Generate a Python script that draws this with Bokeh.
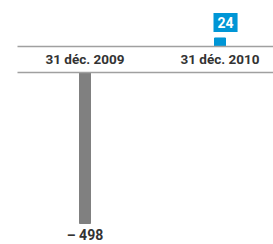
from bokeh.plotting import figure
from bokeh.models import Range1d, ColumnDataSource
from bokeh.core.properties import value
from bokeh.embed import file_html
from bokeh.resources import INLINE

categories = ["31 déc. 2009", "31 déc. 2010"]
values = [-498, 24]
bar_colors = ["#808080", "#0096d6"]

FONT = "Roboto"

xs = list(range(len(categories)))
band = -73  # depth of category strip in data units

def fmt(v):
    return ("– " + str(abs(v))) if v < 0 else str(v)

W, H = 273, 244
px_x = 135.0      # pixels per category step
x0_px = 84.5      # pixel position of first category
px_y = 0.3554     # pixels per unit
y0_px = 46.0      # pixel position of zero

p = figure(width=W, height=H, output_backend="svg", toolbar_location=None,
           x_range=Range1d(-x0_px / px_x, (W - x0_px) / px_x),
           y_range=Range1d(-(H - y0_px) / px_y, y0_px / px_y),
           min_border=0, outline_line_color=None)
p.axis.visible = False
p.grid.visible = False
p.background_fill_color = "white"
p.border_fill_color = "white"

src = ColumnDataSource(dict(x=xs, top=values, color=bar_colors,
                            label=[fmt(v) for v in values], cat=categories))
p.vbar(x="x", top="top", bottom=0, width=11 / px_x, color="color", source=src)

# category strip
p.quad(left=[-0.5], right=[2.0], top=[0], bottom=[band], color="white", line_color=None)
p.segment(x0=[-0.5, -0.5], x1=[2.0, 2.0], y0=[0, band], y1=[0, band],
          line_color="#a0a0a0", line_width=1.5)
p.text(x="x", y=band / 2, text="cat", source=src, text_font=value(FONT),
       text_font_style="bold", text_font_size="13.5px", text_color="#333333",
       text_align="center", text_baseline="middle")

# value labels
neg = ColumnDataSource(dict(x=[x for x, v in zip(xs, values) if v < 0],
                            y=[v for v in values if v < 0],
                            t=[fmt(v) for v in values if v < 0]))
pos = ColumnDataSource(dict(x=[x for x, v in zip(xs, values) if v >= 0],
                            y=[v for v in values if v >= 0],
                            t=[fmt(v) for v in values if v >= 0]))
p.text(x="x", y="y", text="t", source=neg, text_font=value(FONT),
       text_font_style="bold", text_font_size="14px", text_color="#333333",
       text_align="center", text_baseline="top", y_offset=4)
p.text(x="x", y="y", text="t", source=pos, text_font=value(FONT),
       text_font_style="bold", text_font_size="14px", text_color="white",
       text_align="left", text_baseline="bottom", x_offset=-6.5, y_offset=-6,
       background_fill_color="#0096d6", padding=4)

open("out.html", "w").write(file_html(p, INLINE))
